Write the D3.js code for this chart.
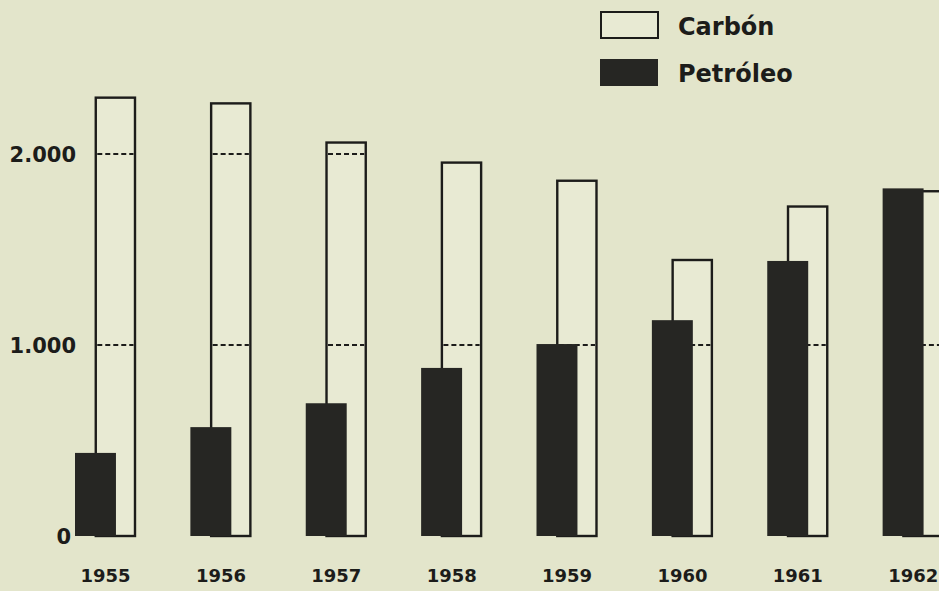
<!DOCTYPE html>
<html>
<head>
<meta charset="utf-8">
<script src="https://cdn.jsdelivr.net/npm/d3@7"></script>
<style>
  html, body { margin: 0; padding: 0; background: #e3e5cb; }
  svg { display: block; }
</style>
</head>
<body>
<svg id="chart" width="939" height="591"></svg>
<script>
// ---- data ----
const years = ["1955", "1956", "1957", "1958", "1959", "1960", "1961", "1962"];
const carbon = [2295, 2265, 2060, 1955, 1860, 1445, 1725, 1805];
const petroleo = [435, 570, 695, 880, 1005, 1130, 1440, 1820];
const yTicks = [0, 1000, 2000];
const legendLabels = ["Carbón", "Petróleo"];

const W = 939, H = 591;
const svg = d3.select("#chart");

const bg = "#e3e5cb";
const lightFill = "#e8ead3";
const dark = "#262623";
const ink = "#1c1c1a";

svg.append("rect").attr("width", W).attr("height", H).attr("fill", bg);

const x = d3.scaleBand().domain(years).range([75, 998]).paddingInner(0).paddingOuter(0).align(0);
const y = d3.scaleLinear().domain([0, 2000]).range([536, 154]);
const bw = x.bandwidth();

const darkW = bw * 0.355;
const whiteOff = bw * 0.18;
const whiteW = bw * 0.34;

const data = years.map((yr, i) => ({ year: yr, c: carbon[i], p: petroleo[i] }));

// white (Carbón) bars
const g = svg.append("g");
g.selectAll("rect.carbon").data(data).join("rect")
  .attr("class", "carbon")
  .attr("x", d => x(d.year) + whiteOff)
  .attr("y", d => y(d.c))
  .attr("width", whiteW)
  .attr("height", d => y(0) - y(d.c))
  .attr("fill", lightFill)
  .attr("stroke", ink)
  .attr("stroke-width", 2.4);

// dashed reference lines inside white bars
const dashData = [];
data.forEach(d => {
  yTicks.filter(t => t > 0 && t < d.c).forEach(t => dashData.push({ year: d.year, t }));
});
g.selectAll("line.dash").data(dashData).join("line")
  .attr("class", "dash")
  .attr("x1", d => x(d.year) + whiteOff + 1.5)
  .attr("x2", d => x(d.year) + whiteOff + whiteW - 1.5)
  .attr("y1", d => y(d.t))
  .attr("y2", d => y(d.t))
  .attr("stroke", ink)
  .attr("stroke-width", 2)
  .attr("stroke-dasharray", "5,3");

// dark (Petróleo) bars
g.selectAll("rect.pet").data(data).join("rect")
  .attr("class", "pet")
  .attr("x", d => x(d.year))
  .attr("y", d => y(d.p))
  .attr("width", darkW)
  .attr("height", d => y(0) - y(d.p))
  .attr("fill", dark);

// y axis labels
const loc = d3.formatLocale({ decimal: ",", thousands: ".", grouping: [3], currency: ["", ""] });
const fmt = loc.format(",d");
const yAxis = d3.axisLeft(y).tickValues(yTicks).tickSize(0).tickPadding(0).tickFormat(fmt);
const ya = svg.append("g").attr("transform", "translate(76,0)").call(yAxis);
ya.select(".domain").remove();
ya.selectAll("text")
  .attr("fill", ink)
  .style("font-family", "DejaVu Sans")
  .style("font-weight", "bold")
  .style("font-size", "21px")
  .attr("dy", "0.36em")
  .attr("dx", d => d === 0 ? -5 : 0);

// x axis labels (years)
const xAxis = d3.axisBottom(x).tickSize(0).tickPadding(0);
const xa = svg.append("g").attr("transform", "translate(0,582)").call(xAxis);
xa.select(".domain").remove();
xa.selectAll(".tick").attr("transform", d => `translate(${x(d) + bw * 0.265},0)`);
xa.selectAll("text")
  .attr("y", 0).attr("dy", 0)
  .attr("fill", ink)
  .style("font-family", "DejaVu Sans")
  .style("font-weight", "bold")
  .style("font-size", "18px");

// legend
const leg = svg.append("g");
leg.append("rect").attr("x", 601).attr("y", 12).attr("width", 57).attr("height", 26)
  .attr("fill", lightFill).attr("stroke", ink).attr("stroke-width", 2);
leg.append("rect").attr("x", 600).attr("y", 59).attr("width", 58).attr("height", 27)
  .attr("fill", dark);
leg.selectAll("text").data(legendLabels).join("text")
  .attr("x", 678)
  .attr("y", (d, i) => i === 0 ? 35 : 82)
  .attr("fill", ink)
  .style("font-family", "DejaVu Sans")
  .style("font-weight", "bold")
  .style("font-size", "24px")
  .text(d => d);
</script>
</body>
</html>
